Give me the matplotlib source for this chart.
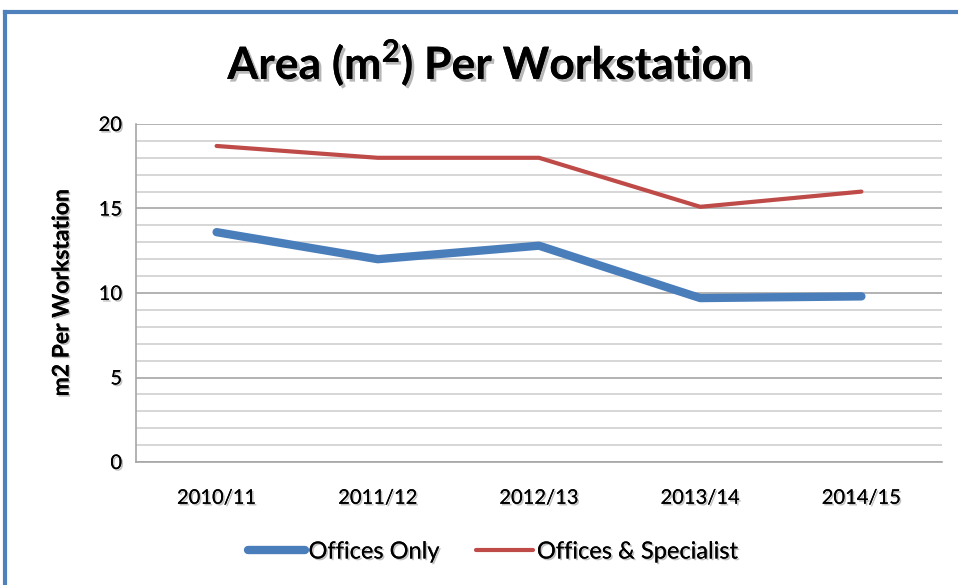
import matplotlib
matplotlib.use("Agg")
import matplotlib.pyplot as plt
import matplotlib.patheffects as pe
from matplotlib.lines import Line2D

categories = ["2010/11", "2011/12", "2012/13", "2013/14", "2014/15"]
offices_only = [13.6, 12.0, 12.8, 9.7, 9.8]
offices_specialist = [18.7, 18.0, 18.0, 15.1, 16.0]
yticks = [0, 5, 10, 15, 20]

FONT = ["Lato", "DejaVu Sans"]
plt.rcParams['font.family'] = FONT
plt.rcParams['mathtext.fontset'] = 'custom'
plt.rcParams['mathtext.rm'] = 'Lato'
plt.rcParams['mathtext.bf'] = 'Lato:bold'

fig = plt.figure(figsize=(9.58, 5.85), dpi=100)
ax = fig.add_axes([136/958, 1-462/585, (942-136)/958, (462-124)/585])

shadow = [pe.withSimplePatchShadow(offset=(1.2, -1.2), shadow_rgbFace='#999999', alpha=0.6), pe.Normal()]

x = list(range(len(categories)))
ax.plot(x, offices_only, color='#4A7EBB', lw=6, solid_capstyle='round', solid_joinstyle='round', zorder=3)
ax.plot(x, offices_specialist, color='#BE4B48', lw=3, solid_capstyle='round', solid_joinstyle='round', zorder=3)

ax.set_xlim(-0.5, len(categories) - 0.5)
ax.set_ylim(0, 20)
ax.set_yticks(yticks)
ax.set_yticks(range(0, 21), minor=True)
ax.grid(axis='y', which='minor', color='#D0D0D0', lw=1.2)
ax.grid(axis='y', which='major', color='#A6A6A6', lw=1.2)
ax.set_xticks(x)
ax.set_xticklabels(categories)
ax.tick_params(axis='both', which='both', length=0, labelsize=14.5)
ax.tick_params(axis='x', pad=20)
ax.tick_params(axis='y', pad=10)
for lab in ax.get_xticklabels() + ax.get_yticklabels():
    lab.set_path_effects(shadow)
for s in ['top', 'right']:
    ax.spines[s].set_visible(False)
ax.spines['left'].set_color('#A6A6A6')
ax.spines['bottom'].set_color('#A6A6A6')
ax.spines['left'].set_linewidth(1.2)
ax.spines['bottom'].set_linewidth(1.2)

ylab = fig.text(62/958, 1-293/585, "m2 Per Workstation", rotation=90, ha='center', va='center',
                fontsize=16.5, fontweight='bold')
ylab.set_path_effects(shadow)

title = fig.text(490/958, 1-63/585, r"Area (m$^{\mathbf{2}}$) Per Workstation", ha='center', va='center',
                 fontsize=32, fontweight='bold')
title.set_path_effects([pe.withSimplePatchShadow(offset=(2, -2), shadow_rgbFace='#888888', alpha=0.6), pe.Normal()])

handles = [Line2D([], [], color='#4A7EBB', lw=6, solid_capstyle='round'),
           Line2D([], [], color='#BE4B48', lw=3, solid_capstyle='round')]
leg = fig.legend(handles, ["Offices Only", "Offices & Specialist"], loc='center', bbox_to_anchor=(493/958, 1-552/585),
                 ncol=2, frameon=False, fontsize=17, handlelength=2.4, handletextpad=0.17, columnspacing=1.55)
for t in leg.get_texts():
    t.set_path_effects(shadow)

# blue frame on top and left
fig.add_artist(Line2D([5/958, 5/958], [0, 1-12/585], color='#4F81BD', lw=3, transform=fig.transFigure))
fig.add_artist(Line2D([5/958, 1], [1-12/585, 1-12/585], color='#4F81BD', lw=3, transform=fig.transFigure))

fig.savefig("out.png", dpi=100)
